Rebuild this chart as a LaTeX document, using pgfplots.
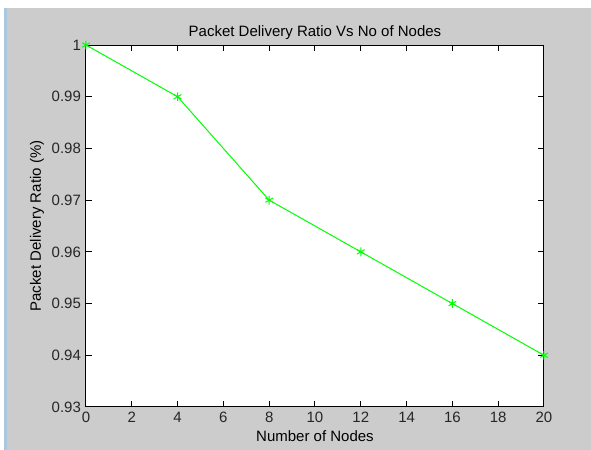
\documentclass[border=0pt]{standalone}
\usepackage{pgfplots}
\pgfplotsset{compat=1.18}
\usepackage{fontspec}
\setmainfont{Liberation Sans}
\definecolor{bggray}{RGB}{204,204,204}
\definecolor{mgreen}{RGB}{0,255,0}
\definecolor{lblue}{RGB}{170,200,225}
\begin{document}
\begin{tikzpicture}
\fill[bggray] (0,0) rectangle (295.5pt,225pt);
\fill[white] (0,221pt) rectangle (295.5pt,225pt);
\fill[white] (0,0) rectangle (2pt,221pt);
\fill[lblue] (2pt,0) rectangle (3.5pt,221pt);
\begin{axis}[
  at={(43pt,21.5pt)}, anchor=south west,
  scale only axis, width=229pt, height=181pt,
  xmin=0, xmax=20, ymin=0.93, ymax=1,
  xtick={0,2,...,20},
  ytick={0.93,0.94,0.95,0.96,0.97,0.98,0.99,1},
  yticklabels={0.93,0.94,0.95,0.96,0.97,0.98,0.99,1},
  tick align=inside, major tick length=3pt,
  every tick/.style={black, line width=0.5pt},
  axis line style={black, line width=0.5pt},
  axis background/.style={fill=white},
  /pgf/number format/assume math mode=true,
  tick label style={font=\fontsize{7.5}{9}\selectfont, text=black!85},
  xticklabel style={yshift=1pt},
  yticklabel style={xshift=1pt},
  label style={font=\fontsize{7.5}{9}\selectfont},
  title style={font=\fontsize{7.5}{9}\selectfont, yshift=-7pt},
  title={Packet Delivery Ratio Vs No of Nodes},
  xlabel={Number of Nodes},
  ylabel={Packet Delivery Ratio (\%)},
  xlabel style={yshift=3pt},
  ylabel style={yshift=-3pt},
]
\addplot[mgreen, line width=0.5pt, mark=asterisk, mark size=2.2pt, mark options={line width=0.5pt}]
  coordinates {(0,1) (4,0.99) (8,0.97) (12,0.96) (16,0.95) (20,0.94)};
\end{axis}
\end{tikzpicture}
\end{document}
